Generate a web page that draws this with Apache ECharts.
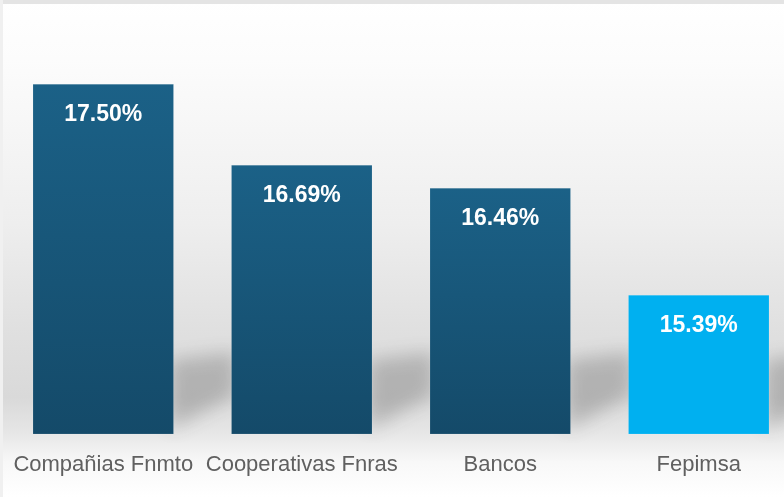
<!DOCTYPE html>
<html>
<head>
<meta charset="utf-8">
<script src="https://cdn.jsdelivr.net/npm/echarts@6/dist/echarts.min.js"></script>
<style>
html,body{margin:0;padding:0;background:#fff;}
#chart{width:784px;height:497px;}
</style>
</head>
<body>
<div id="chart"></div>
<script>
const categories = ['Compañias Fnmto', 'Cooperativas Fnras', 'Bancos', 'Fepimsa'];
const values = [17.50, 16.69, 16.46, 15.39];
const highlightIndex = 3;

const chart = echarts.init(document.getElementById('chart'), null, {renderer: 'canvas'});

const darkBar = new echarts.graphic.LinearGradient(0, 0, 0, 1, [
  {offset: 0, color: '#1b6187'},
  {offset: 1, color: '#144a69'}
]);

const OFF = 1200;

const option = {
  animation: false,
  backgroundColor: 'transparent',
  graphic: [
    {
      type: 'rect', z: -10, silent: true,
      shape: {x: 0, y: 0, width: 784, height: 497},
      style: {
        fill: new echarts.graphic.LinearGradient(0, 0, 0, 1, [
          {offset: 0, color: '#ffffff'},
          {offset: 0.12, color: '#fcfcfc'},
          {offset: 0.45, color: '#eeeeee'},
          {offset: 0.66, color: '#e0e0e0'},
          {offset: 0.8, color: '#d9d9d9'},
          {offset: 0.87, color: '#e6e6e6'},
          {offset: 0.93, color: '#f8f8f8'},
          {offset: 1, color: '#ffffff'}
        ])
      }
    },
    {
      type: 'rect', z: -9, silent: true,
      shape: {x: 0, y: 0, width: 784, height: 4},
      style: {fill: '#e4e4e4'}
    },
    {
      type: 'rect', z: -9, silent: true,
      shape: {x: 0, y: 0, width: 3, height: 497},
      style: {fill: '#f0f0f0'}
    }
  ],
  grid: {left: 4, top: 34, width: 794, height: 400, containLabel: false, outerBoundsMode: 'none'},
  xAxis: {
    type: 'category',
    data: categories,
    axisLine: {show: false},
    axisTick: {show: false},
    axisLabel: {
      color: '#606060',
      fontSize: 22,
      fontFamily: 'Liberation Sans, Arial, sans-serif',
      margin: 20,
      interval: 0
    }
  },
  yAxis: {
    type: 'value',
    min: 14,
    max: 18,
    show: false,
    splitLine: {show: false}
  },
  series: [
    {
      type: 'custom',
      z: 1,
      silent: true,
      clip: false,
      data: values.map((v, i) => [i, v]),
      encode: {x: 0, y: 1},
      renderItem: function (params, api) {
        const idx = api.value(0);
        const bottom = api.coord([idx, 14]);
        const band = api.size([1, 0])[0];
        const xr = bottom[0] + band * 0.355 + OFF;
        const y0 = bottom[1];
        return {
          type: 'polygon',
          shape: {
            points: [
              [xr - 4, y0 - 4],
              [xr - 4, y0 - 74],
              [xr + 62, y0 - 82],
              [xr + 62, y0 - 40]
            ]
          },
          style: {
            fill: '#000',
            shadowBlur: 18,
            shadowOffsetX: -OFF,
            shadowColor: 'rgba(60,60,60,0.26)'
          }
        };
      }
    },
    {
      type: 'bar',
      z: 2,
      data: values.map((v, i) => ({
        value: v,
        itemStyle: {color: i === highlightIndex ? '#00b0f0' : darkBar}
      })),
      barWidth: 141,
      itemStyle: {
        borderColor: 'rgba(255,255,255,0.25)',
        borderWidth: 0.5
      },
      label: {
        show: true,
        position: 'insideTop',
        distance: 19,
        color: '#ffffff',
        fontSize: 23,
        fontWeight: 'bold',
        fontFamily: 'Liberation Sans, Arial, sans-serif',
        formatter: function (p) { return p.value.toFixed(2) + '%'; }
      }
    }
  ]
};

chart.setOption(option);
</script>
</body>
</html>
